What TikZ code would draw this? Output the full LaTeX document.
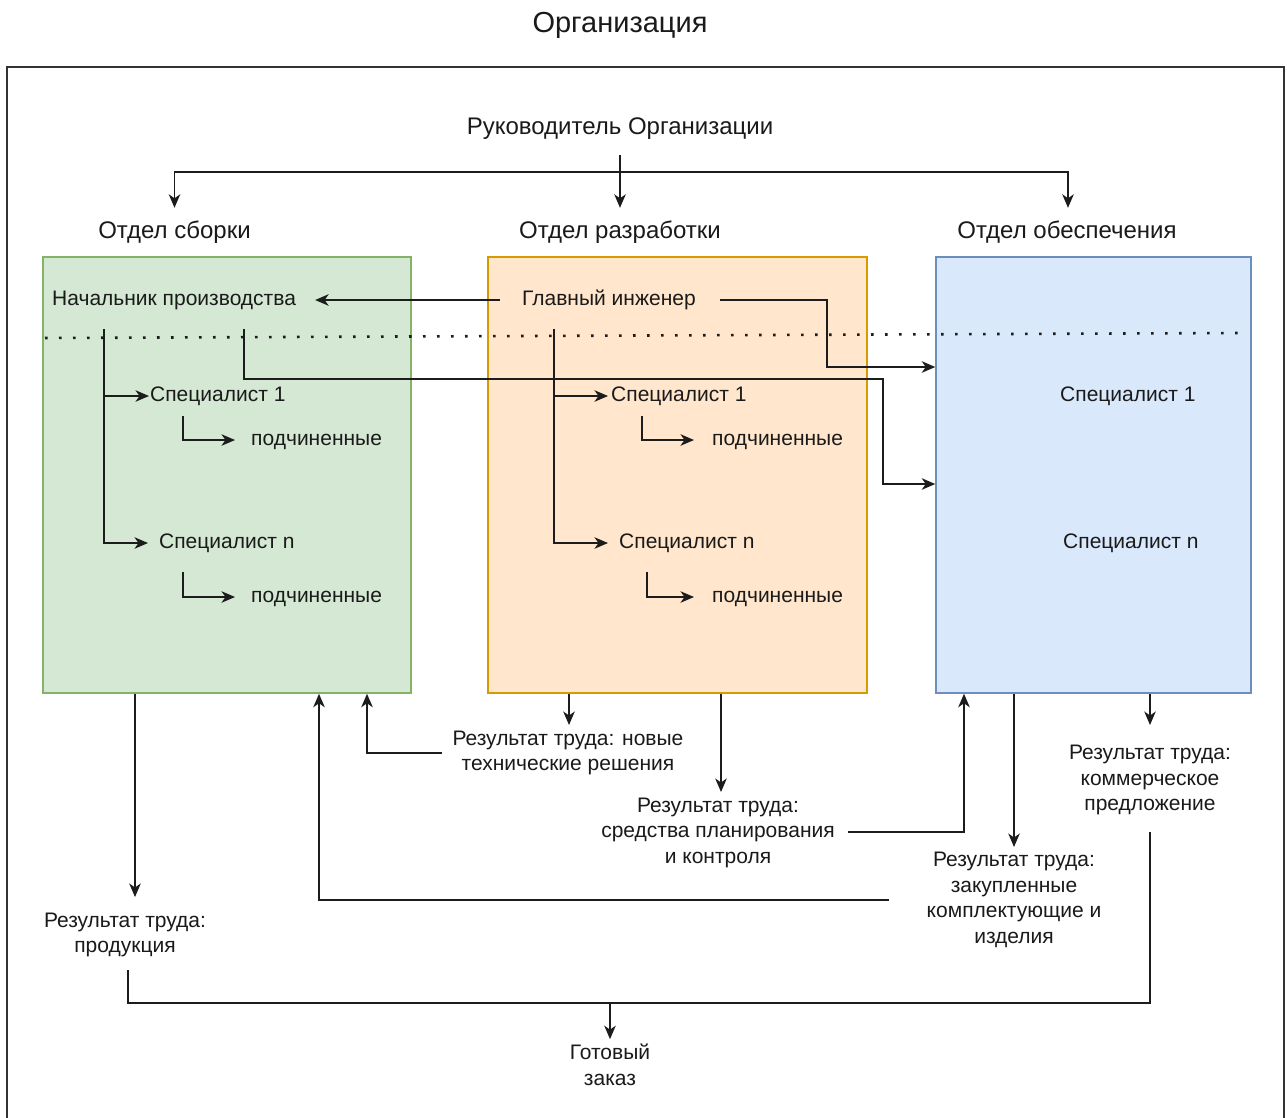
\documentclass[tikz,border=0pt]{standalone}
\usepackage{fontspec}
\setmainfont{Liberation Sans}
\usetikzlibrary{arrows.meta,calc}
\definecolor{ln}{HTML}{1C1C1C}
\definecolor{txt}{HTML}{1A1A1A}
\definecolor{frame}{HTML}{333333}
\definecolor{gfill}{HTML}{D5E8D4}\definecolor{gline}{HTML}{82B366}
\definecolor{ofill}{HTML}{FFE6CC}\definecolor{oline}{HTML}{D79B00}
\definecolor{bfill}{HTML}{DAE8FC}\definecolor{bline}{HTML}{6C8EBF}
\begin{document}
\begin{tikzpicture}[x=1pt,y=-1pt,
  lbl/.style={inner sep=0pt, text=txt, anchor=west, font=\fontsize{21}{26}\selectfont, text height=15pt, text depth=4.5pt},
  hdr/.style={inner sep=0pt, text=txt, font=\fontsize{24}{29}\selectfont, text height=17pt, text depth=5pt},
  res/.style={inner sep=0pt, text=txt, align=center, font=\fontsize{21}{25.5}\selectfont},
  dept/.style={line width=1.5pt, inner sep=0pt},
  wire/.style={draw=ln, line width=1.6pt},
  arr/.style={wire, -{Stealth[length=13.5pt,width=11.5pt,inset=4pt]}},
  dots/.style={draw=ln, line width=2.6pt, dash pattern=on 2.6pt off 11.4pt}]

% page and outer frame
\useasboundingbox (0,0) rectangle (1287,1117);
\fill[white] (0,0) rectangle (1287,1117);
\clip (0,0) rectangle (1287,1117);
\draw[frame, line width=2pt] (7,1140) -- (7,67) -- (1284,67) -- (1284,1140);

% titles
\node[inner sep=0pt, text=txt, font=\fontsize{29}{34}\selectfont, text height=21pt, text depth=6pt] (org) at (620,25) {Организация};
\node[hdr] (ruk) at (620,128) {Руководитель Организации};
\node[hdr] (otd1) at (174.5,232) {Отдел сборки};
\node[hdr] (otd2) at (620,232) {Отдел разработки};
\node[hdr] (otd3) at (1067,232) {Отдел обеспечения};

% department boxes
\node[dept, draw=gline, fill=gfill, minimum width=368pt, minimum height=436pt] (gbox) at (227,475) {};
\node[dept, draw=oline, fill=ofill, minimum width=379pt, minimum height=436pt] (obox) at (677.5,475) {};
\node[dept, draw=bline, fill=bfill, minimum width=315pt, minimum height=436pt] (bbox) at (1093.5,475) {};

% separator between heads and staff
\draw[dots] (45,338) -- (1240,333);

% staff inside the departments
\node[lbl] (nach) at (52,300) {Начальник производства};
\node[lbl] (s11) at (150,396) {Специалист 1};
\node[lbl] (p11) at (251,440) {подчиненные};
\node[lbl] (s1n) at (159,543) {Специалист n};
\node[lbl] (p1n) at (251,597) {подчиненные};

\node[lbl] (glav) at (522,300) {Главный инженер};
\node[lbl] (s21) at (611,396) {Специалист 1};
\node[lbl] (p21) at (712,440) {подчиненные};
\node[lbl] (s2n) at (619,543) {Специалист n};
\node[lbl] (p2n) at (712,597) {подчиненные};

\node[lbl] (s31) at (1060,396) {Специалист 1};
\node[lbl] (s3n) at (1063,543) {Специалист n};

% results of work
\node[res] (r1) at (125,935) {Результат труда:\\продукция};
\node[res] (r2) at (568,753) {Результат труда: новые\\технические решения};
\node[res] (r3) at (718,832.5) {Результат труда:\\средства планирования\\и контроля};
\node[res] (r4) at (1014,900) {Результат труда:\\закупленные\\комплектующие и\\изделия};
\node[res] (r5) at (1150,780) {Результат труда:\\коммерческое\\предложение};
\node[res] (gotov) at (610,1065) {Готовый\\заказ};

% free ends of the connectors
\coordinate (rukb) at (620,155);
\coordinate (hub) at (620,172);
\coordinate (nt) at (104,329);
\coordinate (nb) at (244,329);
\coordinate (gt) at (554,329);
\coordinate (s11d) at (183,416);
\coordinate (s1nd) at (183,572);
\coordinate (s21d) at (642,416);
\coordinate (s2nd) at (647,572);
\coordinate (r1in) at (135,897);
\coordinate (r2in) at (569,725);
\coordinate (r3in) at (721,792);
\coordinate (r4in) at (1014,847);
\coordinate (r5in) at (1150,725);
\coordinate (r1out) at (128,970);
\coordinate (r2out) at (442,753);
\coordinate (r3out) at (848,832);
\coordinate (r4out) at (889,900);
\coordinate (r5out) at (1150,832);
\coordinate (merge) at (610,1003);

% head of the organisation to the departments
\draw[arr] (rukb) -- ([yshift=13pt]otd2.north);
\draw[arr] (hub) -| ([yshift=13pt]otd1.north);
\draw[arr] (hub) -| ([yshift=13pt,xshift=1pt]otd3.north);

% chief engineer to the production head and to supply
\draw[arr] ([xshift=-22pt]glav.west) -- ([xshift=19pt]nach.east);
\draw[arr] ([xshift=24pt]glav.east) -| (827,367) -- ([yshift=108pt]bbox.west);
\draw[arr] (nb) |- (883,379) |- ([yshift=-9pt]bbox.west);

% assembly department hierarchy
\draw[arr] (nt) |- ([xshift=-1pt]s11.west);
\draw[arr] (nt) |- ([xshift=-11pt]s1n.west);
\draw[arr] (s11d) |- ([xshift=-16pt]p11.west);
\draw[arr] (s1nd) |- ([xshift=-16pt]p1n.west);

% development department hierarchy
\draw[arr] (gt) |- ([xshift=-3pt]s21.west);
\draw[arr] (gt) |- ([xshift=-11pt]s2n.west);
\draw[arr] (s21d) |- ([xshift=-18pt]p21.west);
\draw[arr] (s2nd) |- ([xshift=-18pt]p2n.west);

% departments to their results
\draw[arr] (gbox.south -| r1in) -- (r1in);
\draw[arr] (obox.south -| r2in) -- (r2in);
\draw[arr] (obox.south -| r3in) -- (r3in);
\draw[arr] (bbox.south -| r4in) -- (r4in);
\draw[arr] (bbox.south -| r5in) -- (r5in);

% results feeding other departments
\draw[arr] (r2out) -| ([xshift=140pt]gbox.south);
\draw[arr] (r4out) -| ([xshift=92pt]gbox.south);
\draw[arr] (r3out) -| ([xshift=-129.5pt]bbox.south);

% results combined into the finished order
\draw[wire] (r1out) |- (merge) -| (r5out);
\draw[arr] (merge) -- ([yshift=5pt]gotov.north);
\end{tikzpicture}
\end{document}
